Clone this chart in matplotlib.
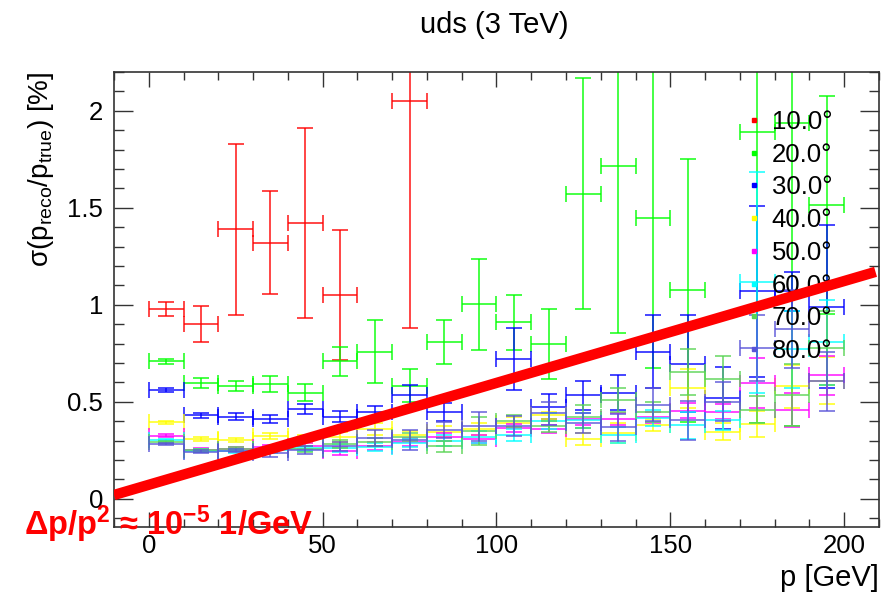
import numpy as np
import matplotlib
matplotlib.use("Agg")
import matplotlib.pyplot as plt
from matplotlib.lines import Line2D

plt.rcParams["font.family"] = ["Liberation Sans", "DejaVu Sans"]
plt.rcParams["mathtext.fontset"] = "custom"
plt.rcParams["mathtext.rm"] = "Liberation Sans"
plt.rcParams["mathtext.it"] = "Liberation Sans"
plt.rcParams["mathtext.bf"] = "Liberation Sans:bold"

nan = np.nan

# bin centres [GeV], all bins are 10 GeV wide
p_bins = [5, 15, 25, 35, 45, 55, 65, 75, 85, 95,
          105, 115, 125, 135, 145, 155, 165, 175, 185, 195]
bin_half = 5.0

labels = ["10.0°", "20.0°", "30.0°", "40.0°", "50.0°", "60.0°", "70.0°", "80.0°"]
colors = ["#ff0000", "#00ff00", "#0000ff", "#ffff00",
          "#ff00ff", "#00ffff", "#59d454", "#5954d8"]

res_10 = [0.98, 0.90, 1.39, 1.32, 1.42, 1.05, nan, 2.05, nan, nan,
          nan, nan, nan, nan, nan, nan, nan, nan, nan, nan]
err_10 = [0.037, 0.093, 0.44, 0.265, 0.49, 0.335, nan, 1.17, nan, nan,
          nan, nan, nan, nan, nan, nan, nan, nan, nan, nan]

res_20 = [0.71, 0.596, 0.582, 0.591, 0.548, 0.708, 0.759, 0.582, 0.809, 1.002,
          0.909, 0.797, 1.572, 1.713, 1.445, 1.074, nan, 1.893, 1.937, 1.515]
err_20 = [0.013, 0.027, 0.028, 0.04, 0.045, 0.077, 0.163, 0.085, 0.113, 0.235,
          0.14, 0.18, 0.595, 0.86, 0.77, 0.68, nan, 1.5, 1.56, 0.56]

res_30 = [0.56, 0.431, 0.423, 0.411, 0.462, 0.424, 0.447, 0.533, 0.447, nan,
          0.722, 0.476, 0.533, 0.548, 0.759, 0.696, 0.52, 1.069, 1.07, 0.99]
err_30 = [0.01, 0.012, 0.018, 0.02, 0.027, 0.028, 0.034, 0.056, 0.048, nan,
          0.16, 0.066, 0.076, 0.09, 0.187, 0.25, 0.16, 0.44, 0.1, 0.42]

res_40 = [0.395, 0.309, 0.302, 0.326, 0.31, 0.32, 0.36, 0.33, 0.347, 0.359,
          0.393, 0.43, 0.307, 0.339, 0.38, 0.57, 0.347, 0.387, 0.58, 0.61]
err_40 = [0.008, 0.01, 0.01, 0.015, 0.02, 0.025, 0.03, 0.02, 0.03, 0.03,
          0.03, 0.02, 0.03, 0.05, 0.03, 0.1, 0.045, 0.066, 0.11, 0.12]

res_50 = [0.325, 0.253, 0.259, 0.266, 0.272, 0.247, 0.273, 0.292, 0.32, 0.309,
          0.364, 0.361, 0.41, 0.411, 0.42, 0.455, 0.45, 0.596, 0.459, 0.637]
err_50 = [0.007, 0.01, 0.01, 0.012, 0.015, 0.02, 0.02, 0.02, 0.02, 0.02,
          0.02, 0.02, 0.03, 0.03, 0.03, 0.04, 0.04, 0.13, 0.087, 0.1]

res_60 = [0.303, 0.247, 0.245, 0.25, 0.26, 0.261, 0.266, 0.287, 0.30, 0.318,
          0.33, 0.40, 0.404, 0.33, 0.416, 0.38, 0.404, 1.117, 0.77, 0.806]
err_60 = [0.006, 0.008, 0.01, 0.012, 0.015, 0.02, 0.02, 0.02, 0.03, 0.03,
          0.03, 0.04, 0.04, 0.04, 0.04, 0.07, 0.05, 0.57, 0.2, 0.22]

res_70 = [0.292, 0.25, 0.255, 0.255, 0.259, 0.283, 0.295, 0.318, 0.27, 0.35,
          0.40, 0.373, 0.424, 0.51, 0.447, 0.653, 0.618, 0.46, 0.533, 0.777]
err_70 = [0.006, 0.008, 0.01, 0.012, 0.015, 0.02, 0.02, 0.02, 0.03, 0.07,
          0.03, 0.03, 0.06, 0.06, 0.05, 0.12, 0.12, 0.07, 0.16, 0.19]

res_80 = [0.283, 0.242, 0.249, 0.235, 0.25, 0.27, 0.313, 0.304, 0.356, 0.373,
          0.376, 0.44, 0.39, 0.368, 0.485, 0.404, 0.50, 0.777, 0.876, 0.605]
err_80 = [0.006, 0.008, 0.01, 0.02, 0.02, 0.025, 0.043, 0.05, 0.04, 0.075,
          0.05, 0.06, 0.05, 0.07, 0.085, 0.1, 0.1, 0.17, 0.2, 0.15]

series = [(res_10, err_10), (res_20, err_20), (res_30, err_30), (res_40, err_40),
          (res_50, err_50), (res_60, err_60), (res_70, err_70), (res_80, err_80)]

# straight reference line  dp/p^2 ~ 1e-5 /GeV
line_p = [-10, 209]
line_sigma = [0.02, 1.17]

fig = plt.figure(figsize=(8.89, 5.96), dpi=100)
ax = fig.add_axes([114 / 889, 1 - 527 / 596, 765 / 889, 455 / 596])

for (vals, errs), col in zip(series, colors):
    ax.errorbar(p_bins, vals, yerr=errs, xerr=bin_half, fmt="none",
                ecolor=col, elinewidth=1.2, capsize=6, capthick=1.2,
                alpha=0.85, zorder=2)

ax.plot(line_p, line_sigma, color="#ff0000", lw=7.5,
        solid_capstyle="butt", zorder=6)

ax.set_xlim(-10, 210)
ax.set_ylim(-0.145, 2.2)
ax.set_xticks([0, 50, 100, 150, 200])
ax.set_xticks(np.arange(-10, 211, 10), minor=True)
ax.set_yticks([0, 0.5, 1, 1.5, 2])
ax.set_yticks(np.arange(-0.1, 2.21, 0.1), minor=True)
ax.set_yticklabels(["0", "0.5", "1", "1.5", "2"])
ax.tick_params(which="both", direction="in", top=True, right=True,
               labelsize=18.5, width=1.0, color="#333333")
ax.tick_params(axis="x", which="major", length=11, pad=5)
ax.tick_params(axis="x", which="minor", length=6)
ax.tick_params(axis="y", which="major", length=14, pad=8)
ax.tick_params(axis="y", which="minor", length=7)
for sp in ax.spines.values():
    sp.set_linewidth(1.2)
    sp.set_color("#333333")

ax.set_xlabel("p [GeV]", fontsize=21, loc="right", labelpad=4)
ax.set_ylabel(r"$\sigma(\mathrm{p_{reco}/p_{true}})$ [%]", fontsize=20,
              loc="top", labelpad=8)

handles = [Line2D([], [], marker="s", ms=3, ls="none", color=c, label=l)
           for c, l in zip(colors, labels)]
leg = ax.legend(handles=handles, loc="upper left", frameon=False,
                bbox_to_anchor=(746 / 889, 1 - 110 / 596),
                bbox_transform=fig.transFigure, fontsize=18.5,
                handlelength=0.6, handletextpad=0.4, labelspacing=0.34,
                borderpad=0, borderaxespad=0)
leg.set_zorder(5)

fig.text(494 / 889, 1 - 25 / 596, "uds (3 TeV)", ha="center", va="center",
         fontsize=21)
fig.text(24 / 889, 1 - 524 / 596,
         r"Δp/p$^{\mathbf{2}}$ ≈ 10$^{\mathbf{-5}}$ 1/GeV", color="#ff0000",
         fontsize=23.5, fontweight="bold", ha="left", va="center")

fig.savefig("out.png", dpi=100)
